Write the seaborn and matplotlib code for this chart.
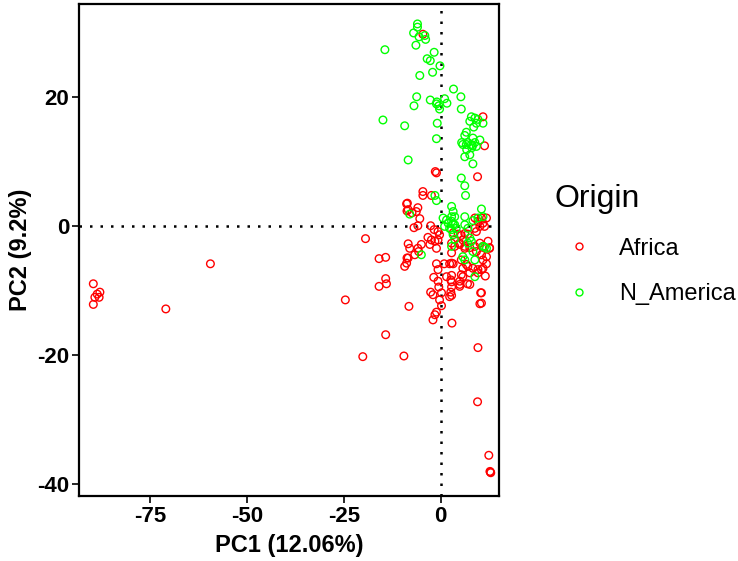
import numpy as np
import pandas as pd
import matplotlib
matplotlib.use("Agg")
import matplotlib.pyplot as plt
from matplotlib.lines import Line2D
import seaborn as sns

# ---------------------------------------------------------------
# PCA scores
# ---------------------------------------------------------------
africa_pc1 = [
    -89.6, -87.9, -89.2, -88.1, -89.6, -88.6, -59.4, -70.9,
    -24.6, -19.4, -15.9, -14.2, -14.2, -14.0, -15.9, -14.2, -20.1,
    -8.8, -8.7, -8.7, -9.3, -8.2, -9.5,
    -4.6, -4.6, -2.4, -8.6, -8.4, -5.9, -6.3, -7.4, -5.4, -5.9, -6.9, -2.6,
    -1.7, -0.7, -0.3, -3.3, -2.4, -2.8, -1.5, -0.7, -1.1, -8.4, -8.0, -5.9, -5.0,
    -8.4, -8.8, -6.7, -5.7,
    -1.1, 0.9, -0.7, 1.5, -1.8, -0.7, -0.5, -2.6, -2.0, 0.2, -0.3, 0.2,
    -1.1, -1.5, -2.0, 2.9, -1.4, -1.1, -4.6,
    2.3, 3.2, 2.6, 2.6, 2.3, 10.3, 10.1, 5.3, 4.9, 6.9, 5.7, 7.0, 8.3, 9.6,
    10.9, 11.5, 11.8,
    9.6, 9.5, 12.4, 12.8, 12.9, 12.7,
    8.8, 9.6, 10.5, 10.9, 11.8, 11.3, 10.1, 8.8, 9.2,
    3.2, 4.5, 5.3, 6.2, 7.0,
    5.7, 4.9, 6.2, 7.5, 10.1, 10.9, 12.2, 12.6, 8.8, 2.8, 3.6,
    2.8, 2.8, 4.9, 6.2, 9.2, 10.5, 10.9, 11.8, 12.6, 10.5, 9.6, 7.5, 6.6,
    5.3, 5.7, 4.9, 4.9, 7.5, 10.5, 10.5, 2.8, 2.8, 2.8, 2.8,
    10.9, 11.3, 9.5,
]
africa_pc2 = [
    -9.0, -10.3, -11.1, -11.1, -12.2, -10.6, -5.9, -12.9,
    -11.5, -2.0, -5.1, -4.9, -8.2, -9.0, -9.4, -16.9, -20.3,
    3.4, 2.3, -5.0, -6.3, -12.5, -20.2,
    5.3, 4.7, 4.7, 3.5, 2.5, 2.8, 2.2, 2.0, 1.1, 0.0, -0.3, 0.0,
    -0.6, -0.9, -1.4, -1.8, -2.2, -2.9, -2.4, -2.2, -3.5, -2.8, -3.5, -3.5, -2.9,
    -5.0, -5.8, -4.5, -4.0,
    -5.9, -5.9, -6.8, -7.9, -8.0, -8.6, -9.5, -10.3, -10.7, -10.4, -11.5, -12.4,
    -13.4, -13.8, -14.6, -15.1, 8.4, 8.2, 29.7,
    -5.9, -5.9, -8.4, -10.3, -11.0, -10.4, -12.1, -7.6, -9.1, -9.0, -6.6, -6.3, -6.6, -6.8,
    -6.6, -7.8, -5.9,
    -18.9, -27.3, -35.6, -38.2, -38.3, -38.1,
    1.2, 0.7, 1.2, 0.4, 1.2, -0.1, -0.1, -0.4, -0.9,
    -1.1, -1.3, -1.5, -1.2, -1.3,
    -2.2, -2.7, -3.2, -3.4, -2.7, -3.2, -2.4, -3.4, -3.2, -2.7, -3.2,
    -4.2, -5.8, -2.9, -3.5, -4.0, -4.5, -5.3, -4.8, -3.5, -6.8, -7.3, -7.3, -6.0,
    -5.3, -7.9, -8.6, -9.4, -9.1, -10.4, -12.0, -7.7, -8.7, -9.5, -10.8,
    16.9, 12.4, 7.6,
]

namerica_pc1 = [
    -6.0, -6.0, -7.0, -5.6, -4.1, -3.9, -6.4, -1.7, -3.5, -2.7, -0.2, -2.1, -5.4,
    3.3, -6.2, -2.7, 5.2, -6.9, -1.0, -0.5, 1.0, 1.6, -0.3, -1.1, 5.3, -9.3,
    -0.9, -1.1, -14.4, -14.9, -8.4,
    7.9, 8.8, 9.6, 7.5, 9.2, 8.5, 10.9, 6.6, 6.2, 8.3, 10.1, 5.7, 6.6, 7.9, 9.2,
    5.4, 7.0, 8.2, 8.0, 6.7, 8.8, 6.2, 7.5, 8.3, 5.3, 6.2, 6.4,
    -1.5, -1.1, -8.0, 0.6, 1.5, 2.8, 1.9, 1.0, 2.3, 3.2, 3.2, 2.8, 10.5,
    2.8, 3.2, 3.6, 2.8, 3.6, 2.8, 4.0, 6.2, 6.2, 7.0, 8.3, 9.6, 10.9,
    7.5, 7.9, 7.0, -5.0,
    8.3, 8.8, 6.2, 5.7, 11.8, 8.8, 10.9, 11.3, 3.6,
]
namerica_pc2 = [
    31.3, 30.8, 29.9, 29.3, 29.5, 28.9, 28.0, 26.9, 25.9, 25.6, 24.8, 23.8, 23.3,
    21.2, 20.0, 19.5, 20.0, 18.6, 19.2, 18.6, 19.7, 19.0, 18.1, 18.9, 18.1, 15.5,
    15.9, 13.5, 27.3, 16.4, 10.2,
    16.9, 16.7, 16.5, 16.2, 15.9, 15.3, 15.9, 14.5, 14.0, 13.6, 13.3, 12.6, 12.6, 12.6, 12.3,
    12.9, 12.9, 12.4, 12.1, 11.8, 12.9, 10.7, 11.0, 9.6, 7.4, 6.2, 4.7,
    4.7, 3.9, 1.8, 1.2, 0.9, 1.4, 0.4, -0.1, -0.4, 0.2, -1.4, -3.2, 2.6,
    3.0, 2.2, 1.4, 0.7, 0.15, -0.6, -0.4, 1.4, 0.15, -0.4, 0.8, 1.2, 1.4,
    -1.9, -2.4, -2.7, -4.5,
    -4.0, -5.3, -5.3, -4.8, -3.5, -7.9, -3.2, -3.3, -2.1,
]

origins = ["Africa", "N_America"]
origin_colors = ["#FF0000", "#00FF00"]
x_ticks = [-75, -50, -25, 0]
y_ticks = [-40, -20, 0, 20]

df = pd.DataFrame({
    "PC1": africa_pc1 + namerica_pc1,
    "PC2": africa_pc2 + namerica_pc2,
    "Origin": ["Africa"] * len(africa_pc1) + ["N_America"] * len(namerica_pc1),
})

sns.set_style("white")
plt.rcParams["font.family"] = ["Liberation Sans", "DejaVu Sans"]
plt.rcParams["axes.unicode_minus"] = False
plt.rcParams["text.color"] = "black"
plt.rcParams["axes.labelcolor"] = "black"

fig = plt.figure(figsize=(7.38, 5.61), dpi=100)
ax = fig.add_axes([0.107, 0.116, 0.569, 0.877])

sns.scatterplot(data=df, x="PC1", y="PC2", hue="Origin", hue_order=origins,
                palette=origin_colors, s=30, linewidth=1.0, legend=False, ax=ax)

# hollow circles: move the hue colours onto the edges
pts = ax.collections[0]
pts.set_edgecolors(pts.get_facecolors())
pts.set_facecolors("none")

ax.axhline(0, color="black", linestyle=(0, (1, 3.2)), linewidth=1.8, zorder=0)
ax.axvline(0, color="black", linestyle=(0, (1, 3.2)), linewidth=1.8, zorder=0)

ax.set_xlim(-93.3, 15.0)
ax.set_ylim(-41.9, 34.4)
ax.set_xticks(x_ticks)
ax.set_yticks(y_ticks)
ax.tick_params(axis="both", direction="out", length=5, width=1.2, color="black",
               labelsize=16, labelcolor="black", pad=2, bottom=True, left=True)
for lab in ax.get_xticklabels() + ax.get_yticklabels():
    lab.set_fontweight("bold")
for sp in ax.spines.values():
    sp.set_visible(True)
    sp.set_color("black")
    sp.set_linewidth(1.6)

ax.set_xlabel("PC1 (12.06%)", fontsize=17, fontweight="bold", labelpad=5,
              color="black")
ax.set_ylabel("PC2 (9.2%)", fontsize=17, fontweight="bold", labelpad=4,
              color="black")

handles = [Line2D([0], [0], marker="o", linestyle="none", markersize=5,
                  markerfacecolor="none", markeredgecolor=c, markeredgewidth=1.0)
           for c in origin_colors]
leg = fig.legend(handles, origins, title="Origin", loc="upper left",
                 bbox_to_anchor=(0.752, 0.672), frameon=False, fontsize=17,
                 title_fontsize=23, labelspacing=1.0, handlelength=2.0,
                 handletextpad=0.7, borderpad=0.0, borderaxespad=0.0,
                 labelcolor="black")
leg.get_title().set_color("black")
leg._legend_box.align = "left"

fig.savefig("out.png", dpi=100)
